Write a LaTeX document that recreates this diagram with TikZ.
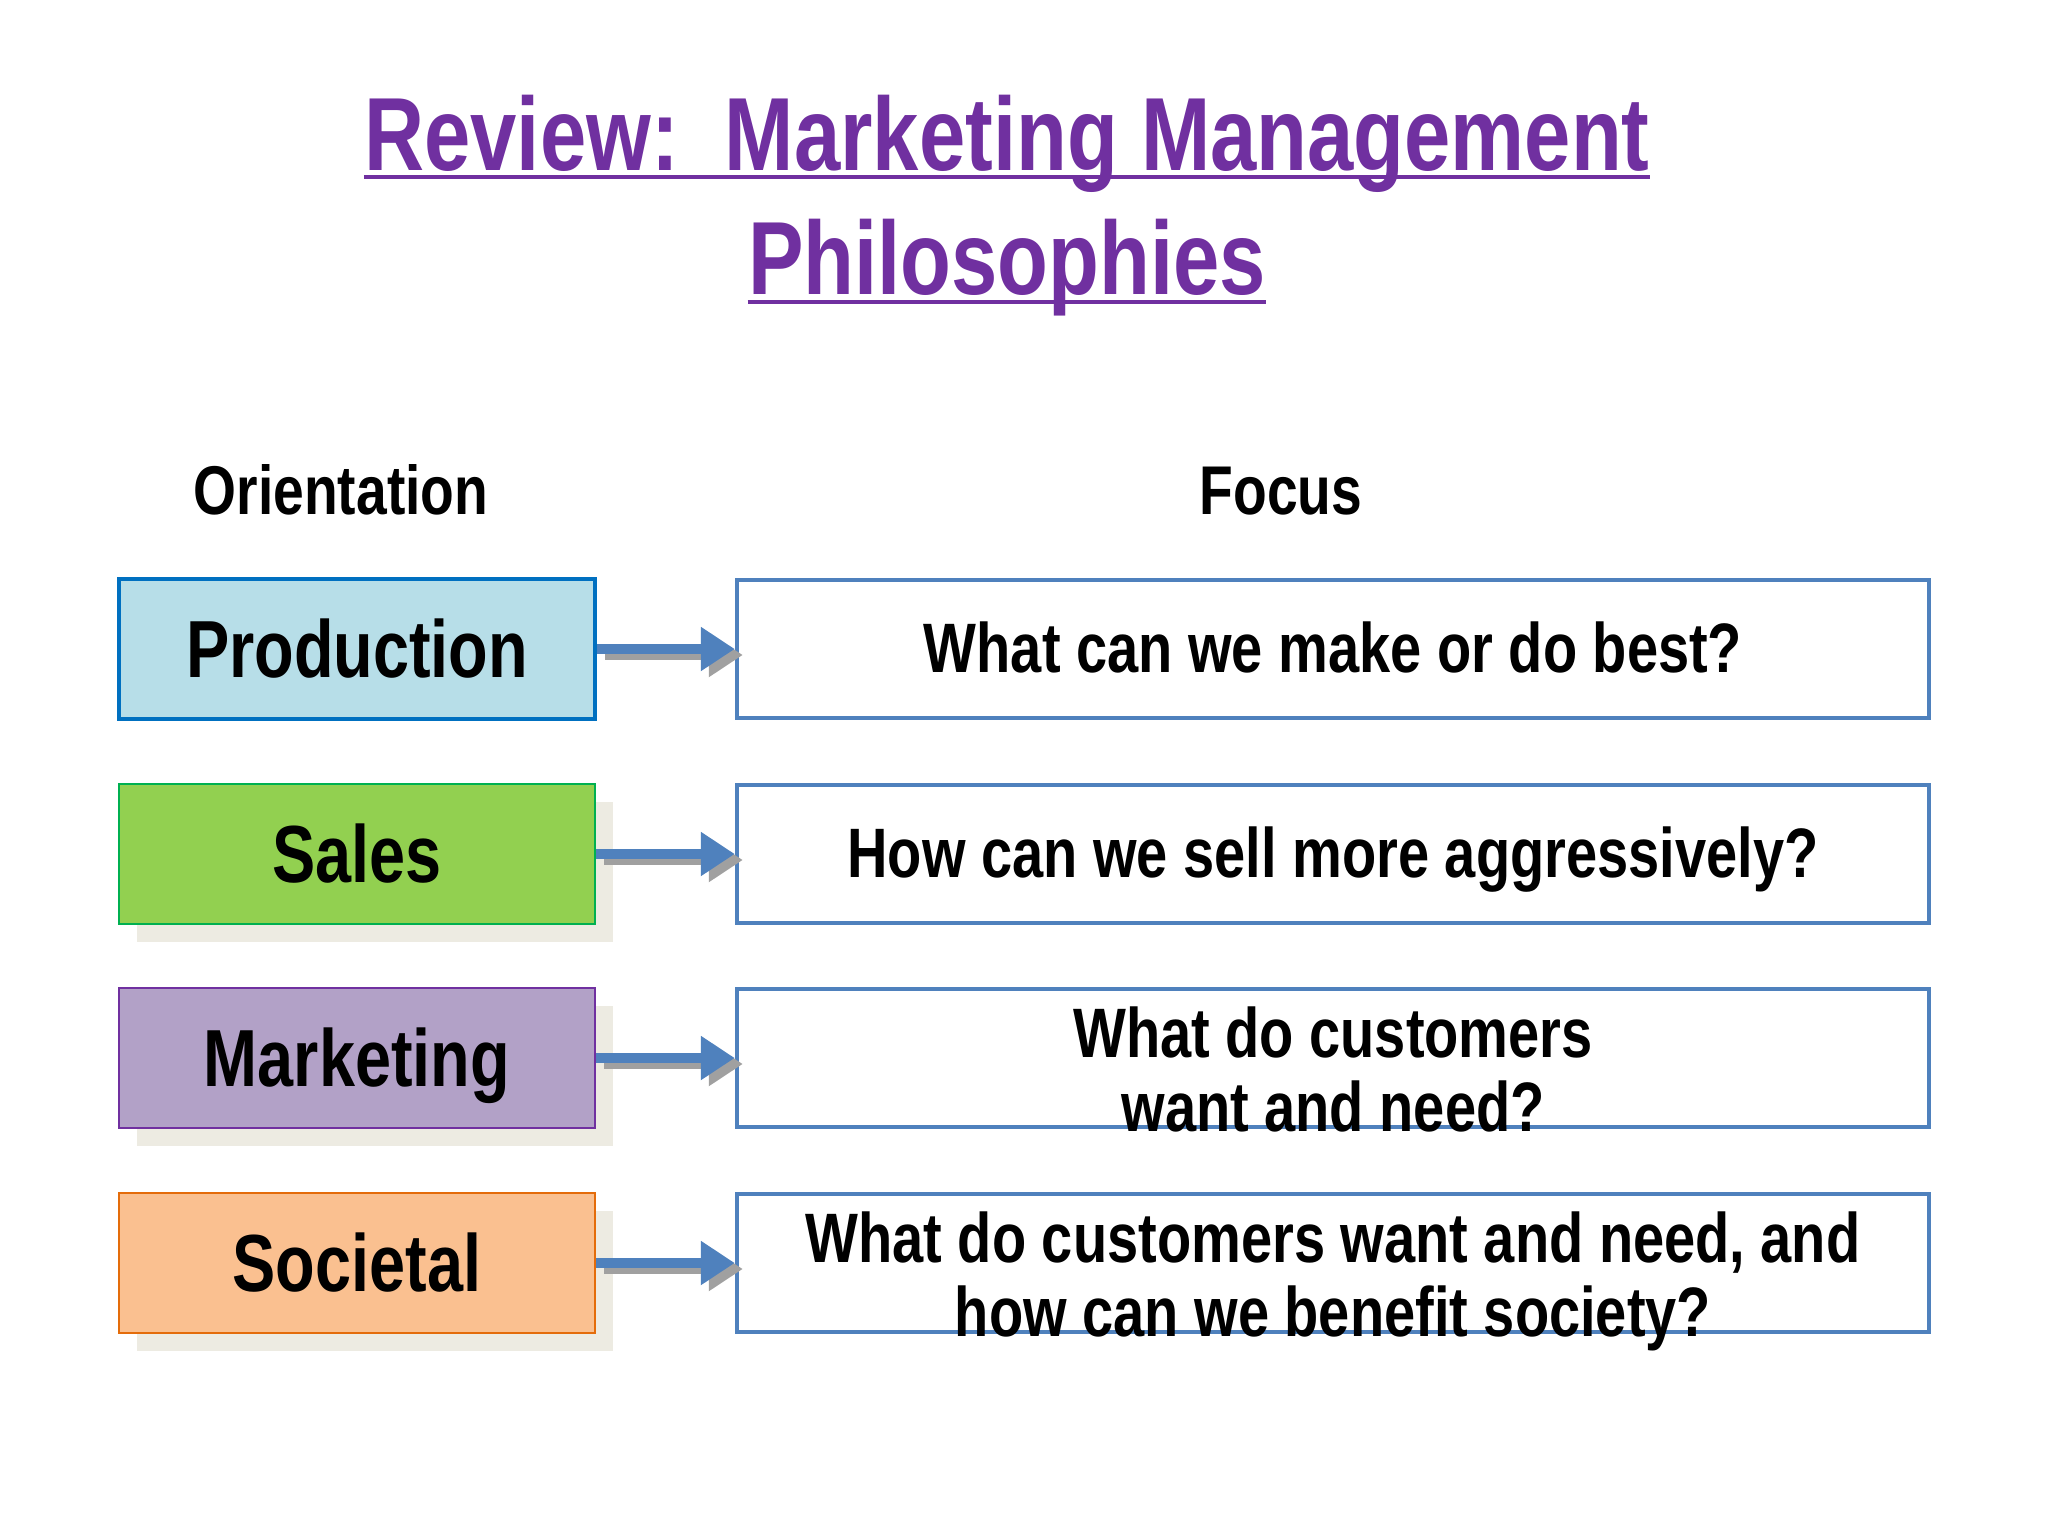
\documentclass[tikz,border=0pt]{standalone}
\usepackage{fontspec}
\setmainfont{Liberation Sans}[FakeStretch=0.80]
\usetikzlibrary{arrows.meta}
\definecolor{ttl}{HTML}{7030A0}
\definecolor{prodfill}{HTML}{B7DEE8}
\definecolor{proddraw}{HTML}{0070C0}
\definecolor{salesfill}{HTML}{92D050}
\definecolor{salesdraw}{HTML}{00B050}
\definecolor{mktfill}{HTML}{B2A1C7}
\definecolor{mktdraw}{HTML}{7030A0}
\definecolor{socfill}{HTML}{FAC090}
\definecolor{socdraw}{HTML}{E46C0A}
\definecolor{focusdraw}{HTML}{4F81BD}
\definecolor{shadowc}{HTML}{EDEBE2}
\definecolor{arrowsh}{HTML}{A0A0A0}
\begin{document}
\begin{tikzpicture}[x=0.5pt,y=-0.5pt,
  lbox/.style={rectangle, inner sep=0pt, minimum width=238pt, minimum height=70pt},
  shadowbox/.style={rectangle, inner sep=0pt, minimum width=238pt, minimum height=70pt, fill=shadowc},
  rbox/.style={rectangle, inner sep=0pt, minimum width=596pt, minimum height=69pt, draw=focusdraw, line width=2.2pt, fill=white},
  ltext/.style={inner sep=0pt, anchor=base, font=\fontsize{40.5}{48}\selectfont\bfseries},
  rtext/.style={inner sep=0pt, anchor=base, font=\fontsize{35}{42}\selectfont\bfseries},
  htext/.style={inner sep=0pt, anchor=base, font=\fontsize{34.5}{41}\selectfont\bfseries},
  ttext/.style={inner sep=0pt, anchor=base, text=ttl, font=\fontsize{52}{62}\selectfont\bfseries},
  ul/.style={draw=ttl, line width=2.2pt},
  arr/.style={draw=focusdraw, line width=5pt, -{Triangle[length=17pt, width=21pt]}},
  arrsh/.style={draw=arrowsh, line width=5pt, -{Triangle[length=17pt, width=21pt]}}
]
\useasboundingbox (0,0) rectangle (2048,1536);
\fill[white] (0,0) rectangle (2048,1536);

% title
\node[ttext] (t1) at (1007,170) {Review:\ \ Marketing Management};
\node[ttext] (t2) at (1007,294) {Philosophies};
\draw[ul] ([yshift=-3.5pt]t1.base west) -- ([yshift=-3.5pt]t1.base east);
\draw[ul] ([yshift=-4pt]t2.base west) -- ([yshift=-4pt]t2.base east);

% headers
\node[htext] (horient) at (341,514) {Orientation};
\node[htext] (hfocus) at (1281,514) {Focus};

% shadows
\node[shadowbox] (sh2) at (375,872) {};
\node[shadowbox] (sh3) at (375,1076) {};
\node[shadowbox] (sh4) at (375,1281) {};

% left boxes
\node[lbox, fill=prodfill, draw=proddraw, line width=2.4pt] (b1) at (357,649) {};
\node[lbox, fill=salesfill, draw=salesdraw, line width=1.1pt] (b2) at (357,854) {};
\node[lbox, fill=mktfill, draw=mktdraw, line width=1.1pt] (b3) at (357,1058) {};
\node[lbox, fill=socfill, draw=socdraw, line width=1.1pt] (b4) at (357,1263) {};

\node[ltext] (l1) at (357,677) {Production};
\node[ltext] (l2) at (357,882) {Sales};
\node[ltext] (l3) at (357,1086) {Marketing};
\node[ltext] (l4) at (357,1291) {Societal};

% right boxes
\node[rbox] (f1) at (1333,649) {};
\node[rbox] (f2) at (1333,854) {};
\node[rbox] (f3) at (1333,1058) {};
\node[rbox] (f4) at (1333,1263) {};

\node[rtext] (r1) at (1333,672) {What can we make or do best?};
\node[rtext] (r2) at (1333,877) {How can we sell more aggressively?};
\node[rtext] (r3a) at (1333,1057) {What do customers};
\node[rtext] (r3b) at (1333,1131) {want and need?};
\node[rtext] (r4a) at (1333,1262) {What do customers want and need, and};
\node[rtext] (r4b) at (1333,1336) {how can we benefit society?};

% arrows
\foreach \a/\b in {b1/f1,b2/f2,b3/f3,b4/f4}{
  \draw[arrsh, transform canvas={shift={(4pt,-3pt)}}] (\a.east) -- (\b.west);
  \draw[arr] (\a.east) -- (\b.west);
}
\end{tikzpicture}
\end{document}
